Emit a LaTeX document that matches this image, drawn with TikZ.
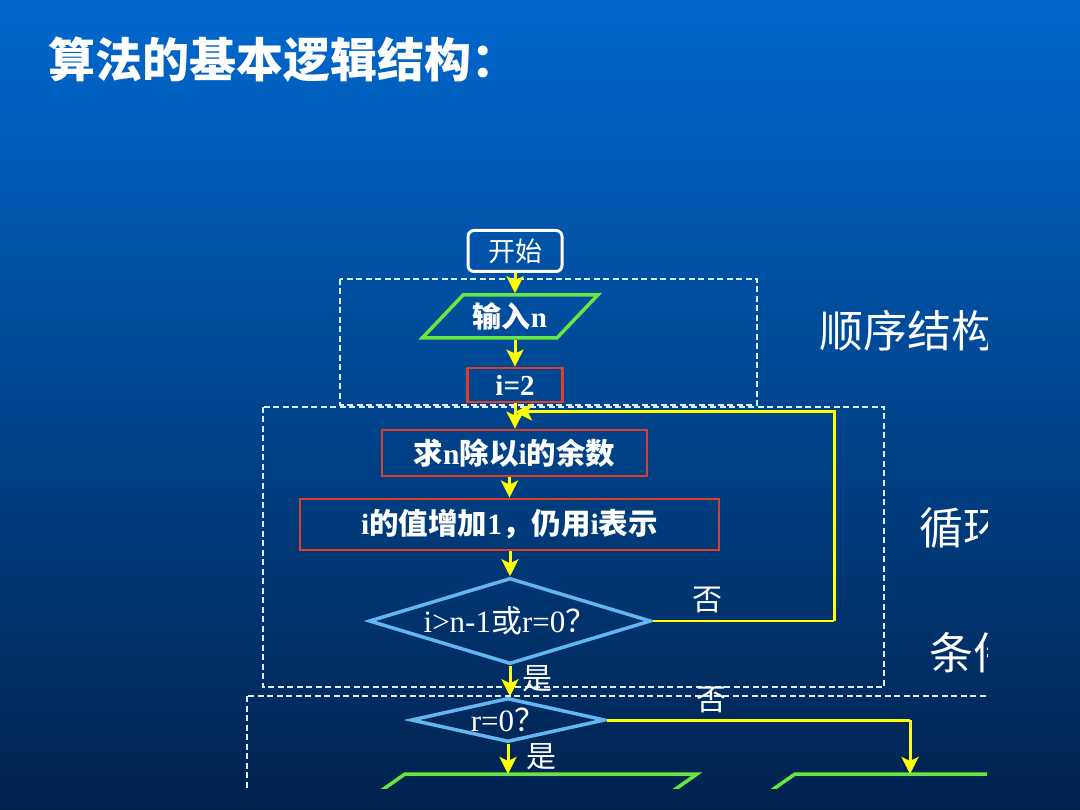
\documentclass[tikz,border=0pt]{standalone}
\usepackage{fontspec}
\setmainfont{Liberation Serif}
\newfontfamily\cjk{Noto Sans CJK SC}
\usetikzlibrary{shapes.geometric,arrows.meta}
\newcommand\lt[1]{{\rmfamily\bfseries #1}}
\definecolor{bgtop}{RGB}{0,104,206}
\definecolor{bgbot}{RGB}{0,34,78}
\definecolor{boxred}{RGB}{222,62,40}
\definecolor{flgreen}{RGB}{102,232,64}
\definecolor{dblue}{RGB}{100,182,240}
\definecolor{dashc}{RGB}{222,236,255}
\definecolor{yel}{RGB}{255,255,0}
\begin{document}
\begin{tikzpicture}[x=1pt,y=-1pt,
  every node/.style={text=white, inner sep=0pt},
  procbox/.style={draw=boxred, line width=2.8pt, rectangle, font=\cjk\bfseries\fontsize{29.5}{32}\selectfont},
  startbox/.style={draw=white, line width=3pt, rounded corners=6pt, minimum width=94pt, minimum height=41pt, font=\cjk\fontsize{27}{30}\selectfont},
  iobox/.style={trapezium, trapezium stretches=true, inner sep=3pt, draw=flgreen, line width=3.5pt, font=\cjk\bfseries\fontsize{29}{32}\selectfont},
  outline/.style={draw=flgreen, line width=3.5pt},
  decbox/.style={diamond, draw=dblue, line width=3.5pt, font=\fontsize{31}{33}\selectfont},
  arr/.style={draw=yel, line width=3pt, -{Stealth[length=17pt,width=17pt,inset=4pt]}},
  frame/.style={draw=dashc, line width=1.5pt, dash pattern=on 6pt off 3.5pt},
  lab/.style={font=\cjk\fontsize{30}{34}\selectfont},
  big/.style={font=\cjk\fontsize{44}{50}\selectfont, anchor=west}
]
\shade[top color=bgtop, bottom color=bgbot] (0,0) rectangle (1080,810);
\useasboundingbox (0,0) rectangle (1080,810);

\node[anchor=west, font=\cjk\bfseries\fontsize{47}{52}\selectfont] (title) at (48,60) {算法的基本逻辑结构：};

\begin{scope}
\clip (0,0) rectangle (987,788);
% dashed frames
\draw[frame] (340,279) rectangle (757,405);
\draw[frame] (263,407) rectangle (884,687);
\draw[frame] (247,696) rectangle (1010,820);

% structure labels
\node[big] (seq) at (819,331) {顺序结构};
\node[big] (loop) at (919,528) {循环结构};
\node[big] (cond) at (929,653) {条件结构};

% nodes
\node[startbox] (start) at (515,251) {开始};
\node[iobox, trapezium left angle=44, trapezium right angle=136, minimum width=176pt, minimum height=43pt] (input) at (510,316.5) {输入\lt{n}};
\node[procbox, minimum width=95pt, minimum height=34pt, font=\rmfamily\bfseries\fontsize{29}{32}\selectfont] (inode) at (515,385) {i=2};
\node[procbox, minimum width=265pt, minimum height=46pt] (qiu) at (514.5,453) {求\lt{n}除以\lt{i}的余数};
\node[procbox, minimum width=419pt, minimum height=51pt] (inc) at (509.5,524.5) {\lt{i}的值增加\lt{1}，仍用\lt{i}表示};
\node[decbox, minimum width=282pt, minimum height=86pt, shape aspect=3.3] (d1) at (510,621) {\raisebox{-3pt}{i>n-1{\cjk 或}r=0{\cjk ？}}};
\node[decbox, minimum width=194pt, minimum height=44pt, shape aspect=4.4] (d2) at (508,720) {r=0{\cjk ？}};

% output shapes (cut off at the lower edge)
\draw[outline] (375,795) -- (405,774) -- (697,774) -- (667,795);
\draw[outline] (765,795) -- (795,774) -- (1000,774);
\coordinate (o1) at (507,774);
\coordinate (o2) at (910,774);

\coordinate (lp1) at (834,621);
\coordinate (lp2) at (834,412);
\coordinate (c2) at (910,720);

% connectors
\draw[arr] (start) -- (start.south |- input.north);
\draw[arr] (input.south -| inode.north) -- (inode.north);
\draw[arr] (inode.south) -- (inode.south |- qiu.north);
\draw[arr] (inc.north |- qiu.south) -- (inc.north);
\draw[arr] (inc.south -| d1.north) -- (d1.north);
\draw[arr] (d1.south) -- (d1.south |- d2.north);
\draw[draw=yel, line width=2pt] (d1.east) -- (lp1);
\draw[arr] (lp1) -- (lp2) -- (lp2 -| inode.south);
\draw[arr] (d2.south) -- (d2.south |- o1);
\draw[draw=yel, line width=3pt] (d2.east) -- (c2);
\draw[arr] (c2) -- (o2);

% branch labels
\node[lab] (no1) at (707,600) {否};
\node[lab] (yes1) at (537,679) {是};
\node[lab] (no2) at (711,700) {否};
\node[lab] (yes2) at (541,757) {是};
\end{scope}
\end{tikzpicture}
\end{document}
